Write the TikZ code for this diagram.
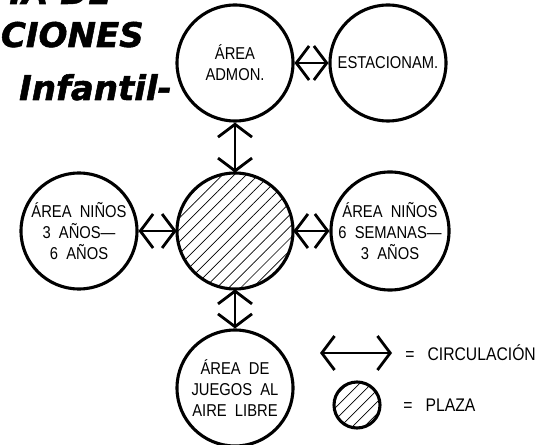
\documentclass[tikz,border=0pt]{standalone}
\usepackage{fontspec}
\setmainfont{Liberation Sans}
\newfontfamily\planfont{Liberation Sans}[FakeStretch=0.86]
\newfontfamily\titlefont{DejaVu Sans}[BoldItalicFeatures={FakeBold=1.5}]
\usetikzlibrary{arrows.meta,patterns.meta}

\begin{document}
\begin{tikzpicture}[x=1cm,y=1cm,
  area/.style={draw, circle, line width=2.2pt, minimum size=2.9cm, inner sep=0pt, align=center, font=\planfont\fontsize{12.2}{14.9}\selectfont},
  plaza/.style={area, pattern={Lines[angle=45,distance=6pt,line width=0.5pt]}},
  circ/.style={<->, >={Straight Barb[length=0.32cm,width=0.85cm,line width=2pt]}, line width=1pt},
  titulo/.style={anchor=base east, inner sep=0pt, font=\titlefont\bfseries\itshape\fontsize{24.2}{29}\selectfont},
  leyenda/.style={anchor=west, inner sep=0pt, font=\planfont\fontsize{13}{15}\selectfont}]
\useasboundingbox (0,0) rectangle (13.775,-11.125);
\node[titulo] (t1) at (2.8,-0.1) {IA DE};
\node[titulo] (t2) at (3.6,-1.175) {CIONES};
\node[titulo] (t3) at (4.3,-2.5) {Infantil-};
\node[area] (admon) at (5.875,-1.575) {ÁREA\\ADMON.};
\node[area] (estac) at (9.7,-1.575) {ESTACIONAM.};
\node[plaza] (plaza) at (5.875,-5.775) {};
\node[area] (ninos36) at (1.975,-5.775) {ÁREA\ \ NIÑOS\\3\ \ AÑOS—\\6\ \ AÑOS};
\node[area] (ninos63) at (9.75,-5.775) {ÁREA\ \ NIÑOS\\6\ \ SEMANAS—\\3\ \ AÑOS};
\node[area] (juegos) at (5.875,-9.7) {ÁREA\ \ DE\\JUEGOS\ \ AL\\AIRE\ \ LIBRE};
\draw[circ] (admon) -- (estac);
\draw[circ] (plaza) -- (admon);
\draw[circ] (plaza) -- (ninos36);
\draw[circ] (plaza) -- (ninos63);
\draw[circ] (plaza) -- (juegos);
% leyenda
\coordinate (l1) at (8.0,-8.825);
\coordinate (l2) at (9.8,-8.825);
\draw[circ] (l1) -- (l2);
\node[leyenda] (lcirc) at (10.125,-8.825) {=\ \ \ CIRCULACIÓN};
\node[plaza, minimum size=1.15cm] (lplaza) at (8.925,-10.125) {};
\node[leyenda] (lpl) at (10.075,-10.125) {=\ \ \ PLAZA};
\end{tikzpicture}
\end{document}
